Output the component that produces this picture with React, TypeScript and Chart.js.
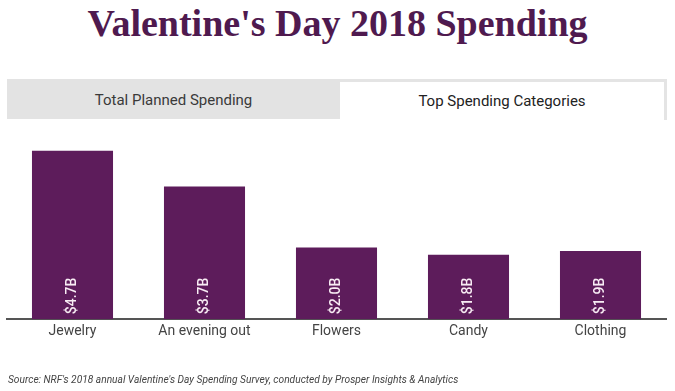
import React, { useEffect, useRef } from "react";
import { Chart, registerables } from "chart.js";

Chart.register(...registerables);

const categories = ["Jewelry", "An evening out", "Flowers", "Candy", "Clothing"];
const spendingBillions = [4.7, 3.7, 2.0, 1.8, 1.9];
const valueLabels = ["$4.7B", "$3.7B", "$2.0B", "$1.8B", "$1.9B"];

const title = "Valentine's Day 2018 Spending";
const tabLabels = ["Total Planned Spending", "Top Spending Categories"];
const sourceText =
  "Source: NRF's 2018 annual Valentine's Day Spending Survey, conducted by Prosper Insights & Analytics";

const barLabelPlugin = {
  id: "barLabels",
  afterDatasetsDraw(chart: any) {
    const ctx = chart.ctx;
    const meta = chart.getDatasetMeta(0);
    ctx.save();
    ctx.fillStyle = "#F8ECF4";
    ctx.font = "500 14px Roboto";
    ctx.textAlign = "left";
    ctx.textBaseline = "middle";
    meta.data.forEach((bar: any, i: number) => {
      ctx.save();
      ctx.translate(bar.x, bar.base - 5);
      ctx.rotate(-Math.PI / 2);
      ctx.fillText(valueLabels[i], 0, 0);
      ctx.restore();
    });
    ctx.restore();
  },
};

export default function App() {
  const canvasRef = useRef<HTMLCanvasElement | null>(null);

  useEffect(() => {
    if (!canvasRef.current) return;
    const chart = new Chart(canvasRef.current, {
      type: "bar",
      data: {
        labels: categories,
        datasets: [
          {
            data: spendingBillions,
            backgroundColor: "#5D1C5B",
            categoryPercentage: 1,
            barPercentage: 0.614,
          },
        ],
      },
      options: {
        animation: false,
        responsive: false,
        maintainAspectRatio: false,
        layout: { padding: { left: 6.5, right: 8.5, top: 140, bottom: 47 } },
        plugins: { legend: { display: false }, tooltip: { enabled: false } },
        scales: {
          x: {
            grid: { display: false, drawTicks: false },
            border: { display: true, color: "#555555", width: 2 },
            ticks: {
              color: "#444444",
              font: { family: "Roboto", size: 14 },
              padding: 4,
            },
          },
          y: {
            display: false,
            min: 0,
            max: 5,
          },
        },
      },
      plugins: [barLabelPlugin],
    });
    return () => chart.destroy();
  }, []);

  return (
    <div
      style={{
        position: "absolute",
        left: 0,
        top: 0,
        width: 675,
        height: 391,
        background: "#ffffff",
        overflow: "hidden",
      }}
    >
      <div
        style={{
          position: "absolute",
          left: 0,
          top: 0,
          width: 675,
          textAlign: "center",
          fontFamily: "'Liberation Serif', 'Times New Roman', serif",
          fontWeight: "bold",
          fontSize: 38,
          lineHeight: "46px",
          color: "#4F1A4F",
        }}
      >
        {title}
      </div>
      <div
        style={{
          position: "absolute",
          left: 7,
          top: 79,
          width: 660,
          height: 41,
          borderTop: "3px solid #E4E4E4",
          borderRight: "3px solid #E4E4E4",
          boxSizing: "border-box",
        }}
      />
      <div
        style={{
          position: "absolute",
          left: 7,
          top: 79,
          width: 333,
          height: 40,
          background: "#E3E3E3",
          display: "flex",
          alignItems: "center",
          justifyContent: "center",
          fontFamily: "Roboto",
          fontSize: 15,
          color: "#3A3A3A",
          paddingTop: 2,
          boxSizing: "border-box",
        }}
      >
        {tabLabels[0]}
      </div>
      <div
        style={{
          position: "absolute",
          left: 340,
          top: 82,
          width: 324,
          height: 37,
          display: "flex",
          alignItems: "center",
          justifyContent: "center",
          fontFamily: "Roboto",
          fontSize: 15,
          color: "#222222",
        }}
      >
        {tabLabels[1]}
      </div>
      <canvas
        ref={canvasRef}
        width={675}
        height={391}
        style={{ position: "absolute", left: 0, top: 0, width: 675, height: 391 }}
      />
      <div
        style={{
          position: "absolute",
          left: 8,
          top: 374,
          fontFamily: "Roboto",
          fontStyle: "italic",
          fontSize: 10.2,
          color: "#444444",
          whiteSpace: "nowrap",
        }}
      >
        {sourceText}
      </div>
    </div>
  );
}
